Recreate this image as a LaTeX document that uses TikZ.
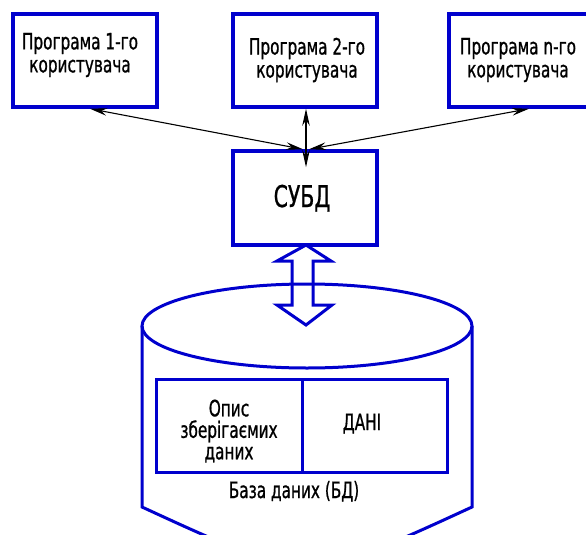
\documentclass[tikz,border=0pt]{standalone}
\usepackage{fontspec}
\setmainfont{DejaVu Sans}[FakeStretch=0.68,FakeBold=0.8]
\usetikzlibrary{arrows.meta,calc}
\definecolor{schemeblue}{RGB}{0,0,205}
\begin{document}
\begin{tikzpicture}[x=1pt,y=-1pt,
  progbox/.style={draw=schemeblue,line width=3.5pt,minimum width=144pt,minimum height=93pt,inner sep=0pt},
  label/.style={inner sep=0pt,align=center,font=\fontsize{22.5}{23}\selectfont},
  link/.style={line width=1.1pt,{Stealth[length=17pt,width=7.5pt]}-{Stealth[length=17pt,width=7.5pt]}},
  dbline/.style={draw=schemeblue,line width=3pt}]
\useasboundingbox (0,0) rectangle (586,535);

% user programs
\node[progbox] (p1) at (85,60.5) {};
\node[progbox] (p2) at (305,60.5) {};
\node[progbox] (pn) at (521,60.5) {};
\node[label] (t1) at (80,55) {Програма 1-го\\ користувача};
\node[label] (t2) at (307,60) {Програма 2-го\\ користувача};
\node[label] (tn) at (518,60) {Програма n-го\\ користувача};

% DBMS
\node[progbox,minimum height=94pt] (dbms) at (305,198) {};
\node[inner sep=0pt,anchor=base,font=\fontsize{30}{32}\selectfont] (tdbms) at (302,207) {СУБД};

% links between programs and DBMS
\draw[link] ($(p1.south)+(5,0)$) -- ($(dbms.north)+(-2,0)$);
\draw[link] ($(pn.south)+(8,0)$) -- ($(dbms.north)+(4,0)$);
\draw[link] ($(p2.south)+(1,0)$) -- ($(dbms.north)+(1,18)$);

% database cylinder
\draw[dbline] (142,326) -- (142,507) .. controls (307,583) .. (472,507) -- (472,326);
\draw[dbline] (307,326) ellipse [x radius=165, y radius=42];

% contents of the database
\node[dbline,minimum width=146pt,minimum height=93pt,inner sep=0pt] (desc) at (229,425.5) {};
\node[dbline,minimum width=145pt,minimum height=93pt,inner sep=0pt] (data) at (374.5,425.5) {};
\node[label,font=\fontsize{22.5}{21.5}\selectfont] (tdesc) at (229,431) {Опис\\ зберігаємих\\ даних};
\node[inner sep=0pt,anchor=base,font=\fontsize{22.5}{23}\selectfont] (tdata) at (362,430) {ДАНІ};
\node[inner sep=0pt,anchor=base,font=\fontsize{22.5}{23}\selectfont] (tdb) at (294,498) {База даних (БД)};

% hollow two-way arrow between DBMS and database
\draw[dbline,line join=miter] (306,245) -- (331,261) -- (313,261) -- (313,305) -- (332,305)
  -- (306,325) -- (277,305) -- (292,305) -- (292,261) -- (277,261) -- cycle;
\end{tikzpicture}
\end{document}
